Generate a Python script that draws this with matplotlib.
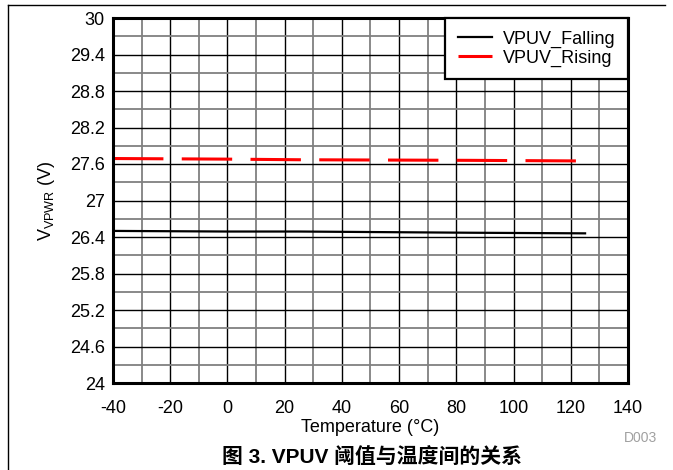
import numpy as np
import matplotlib.pyplot as plt
from matplotlib.lines import Line2D

# data
temp = [-40, 0, 25, 85, 125]
vpuv_falling = [26.50, 26.49, 26.49, 26.47, 26.46]
vpuv_rising = [27.69, 27.68, 27.67, 27.66, 27.65]

xticks = np.arange(-40, 141, 20)
yticks = [24, 24.6, 25.2, 25.8, 26.4, 27, 27.6, 28.2, 28.8, 29.4, 30]
ytick_labels = ["24", "24.6", "25.2", "25.8", "26.4", "27", "27.6", "28.2", "28.8", "29.4", "30"]

plt.rcParams["font.family"] = ["Liberation Sans", "Noto Sans CJK SC", "DejaVu Sans"]
plt.rcParams["axes.unicode_minus"] = False

fs = 13

fig = plt.figure(figsize=(6.73, 4.70), dpi=100)
ax = fig.add_axes([113 / 673, 1 - 383 / 470, 515 / 673, 365 / 470])

# grid: black major, gray minor
ax.set_xticks(np.arange(-40, 141, 10), minor=True)
ax.set_yticks(np.arange(24, 30.01, 0.3), minor=True)
ax.grid(which="minor", color="#808080", linewidth=1.3)
ax.grid(which="major", color="black", linewidth=1.0)
ax.set_axisbelow(True)

ax.plot(temp, vpuv_falling, color="black", linewidth=1.6, label="VPUV_Falling")
ax.plot(temp, vpuv_rising, color="red", linewidth=2.2, dashes=(16.5, 6),
        label="VPUV_Rising")

ax.set_xlim(-40, 140)
ax.set_ylim(24, 30)
ax.set_xticks(xticks)
ax.set_yticks(yticks)
ax.set_yticklabels(ytick_labels)
ax.tick_params(which="both", length=0, labelsize=fs)
ax.tick_params(axis="x", pad=12.5)
ax.tick_params(axis="y", pad=6)
for s in ax.spines.values():
    s.set_linewidth(2.2)

ax.set_xlabel("Temperature (°C)", fontsize=fs, labelpad=1)
ax.set_ylabel(r"V$_{\mathregular{VPWR}}$ (V)", fontsize=fs, labelpad=9)

leg = ax.legend(loc="upper right", fontsize=fs, borderaxespad=0,
                fancybox=False, framealpha=1, edgecolor="black",
                handlelength=1.9, handletextpad=0.6, borderpad=0.7,
                labelspacing=0.1)
leg.get_frame().set_linewidth(1.6)

fig.text(657 / 673, 1 - 438 / 470, "D003", color="#a0a0a0", fontsize=10,
         ha="right", va="center")
fig.text(372 / 673, 1 - 458 / 470, "图 3. VPUV 阈值与温度间的关系",
         fontsize=15, fontweight="bold", ha="center", va="center")

# page frame lines (top and left)
fig.add_artist(Line2D([8 / 673, 665 / 673], [1 - 5 / 470, 1 - 5 / 470],
                      color="black", linewidth=1.0))
fig.add_artist(Line2D([8 / 673, 8 / 673], [1 - 5 / 470, 0], color="black",
                      linewidth=1.0))

fig.savefig("out.png", dpi=100)
